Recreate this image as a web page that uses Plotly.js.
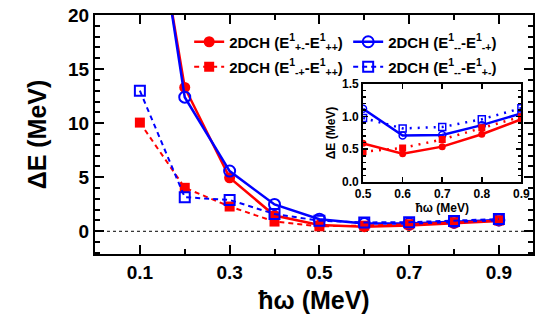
<!DOCTYPE html>
<html>
<head>
<meta charset="utf-8">
<script src="https://cdn.plot.ly/plotly-3.0.1.min.js"></script>
<style>html,body{margin:0;padding:0;background:#fff;}#chart{width:545px;height:326px;}</style>
</head>
<body>
<div id="chart"></div>
<script>
// hbar*omega values (MeV)
const hw = [0.1, 0.2, 0.3, 0.4, 0.5, 0.6, 0.7, 0.8, 0.9];
const hwInset = [0.5, 0.6, 0.7, 0.8, 0.9];

// Delta E (MeV), main panel
const dE_pm_pp = [38.0, 13.3, 4.95, 1.46, 0.59, 0.43, 0.54, 0.73, 0.96];   // E+- - E++
const dE_mm_mp = [39.5, 12.4, 5.57, 2.48, 1.12, 0.71, 0.72, 0.87, 1.05];   // E-- - E-+
const dE_mp_pp = [10.05, 4.02, 2.29, 0.90, 0.46, 0.52, 0.65, 0.83, 1.00];  // E-+ - E++
const dE_mm_pm = [13.0, 3.15, 2.90, 1.60, 0.98, 0.82, 0.84, 0.96, 1.13];   // E-- - E+-

// inset values (same data, 0.5-0.9)
const in_pm_pp = [0.59, 0.43, 0.54, 0.73, 0.96];
const in_mm_mp = [1.12, 0.71, 0.72, 0.87, 1.05];
const in_mp_pp = [0.46, 0.52, 0.65, 0.83, 1.00];
const in_mm_pm = [0.98, 0.82, 0.84, 0.96, 1.13];

const names = [
  '2DCH (E<sup>1</sup><sub>+-</sub>-E<sup>1</sup><sub>++</sub>)',
  '2DCH (E<sup>1</sup><sub>--</sub>-E<sup>1</sup><sub>-+</sub>)',
  '2DCH (E<sup>1</sup><sub>-+</sub>-E<sup>1</sup><sub>++</sub>)',
  '2DCH (E<sup>1</sup><sub>--</sub>-E<sup>1</sup><sub>+-</sub>)'
];

const RED = '#ff0000', BLUE = '#0000ff';
const F = 'Liberation Sans, Arial, sans-serif';

const traces = [
  {x: hw, y: dE_pm_pp, name: names[0], legend: 'legend', mode: 'lines+markers',
   line: {color: RED, width: 2.5}, marker: {symbol: 'circle', size: 11, color: RED}},
  {x: hw, y: dE_mm_mp, name: names[1], legend: 'legend', mode: 'lines+markers',
   line: {color: BLUE, width: 2.5}, marker: {symbol: 'circle-open', size: 11, color: BLUE, line: {width: 2}}},
  {x: hw, y: dE_mp_pp, name: names[2], legend: 'legend2', mode: 'lines+markers',
   line: {color: RED, width: 2, dash: '5px,4px'}, marker: {symbol: 'square', size: 10, color: RED}},
  {x: hw, y: dE_mm_pm, name: names[3], legend: 'legend2', mode: 'lines+markers',
   line: {color: BLUE, width: 2, dash: '5px,4px'}, marker: {symbol: 'square-open', size: 10, color: BLUE, line: {width: 2}}},
  {x: hwInset, y: in_pm_pp, xaxis: 'x2', yaxis: 'y2', showlegend: false, mode: 'lines+markers',
   line: {color: RED, width: 2.5}, marker: {symbol: 'circle', size: 7, color: RED}},
  {x: hwInset, y: in_mm_mp, xaxis: 'x2', yaxis: 'y2', showlegend: false, mode: 'lines+markers',
   line: {color: BLUE, width: 2.5}, marker: {symbol: 'circle-open', size: 7, color: BLUE, line: {width: 1.5}}},
  {x: hwInset, y: in_mp_pp, xaxis: 'x2', yaxis: 'y2', showlegend: false, mode: 'lines+markers',
   line: {color: RED, width: 2.5, dash: '2px,6px'}, marker: {symbol: 'square', size: 7, color: RED}},
  {x: hwInset, y: in_mm_pm, xaxis: 'x2', yaxis: 'y2', showlegend: false, mode: 'lines+markers',
   line: {color: BLUE, width: 2.5, dash: '2px,6px'}, marker: {symbol: 'square-open', size: 7, color: BLUE, line: {width: 1.5}}}
];

const legendBase = {orientation: 'h', x: 0.215, xanchor: 'left', yanchor: 'middle',
  font: {family: F, size: 15, weight: 'bold'}, bgcolor: 'rgba(0,0,0,0)',
  entrywidth: 114, entrywidthmode: 'pixels', traceorder: 'normal', tracegroupgap: 0, itemwidth: 30};

const layout = {
  width: 545, height: 326,
  margin: {l: 95, r: 12, t: 15, b: 72},
  paper_bgcolor: '#fff', plot_bgcolor: '#fff',
  font: {family: F, color: '#000'},
  showlegend: true,
  legend: Object.assign({}, legendBase, {y: 0.887}),
  legend2: Object.assign({}, legendBase, {y: 0.782}),
  xaxis: {range: [0, 0.976], tickvals: [0.1, 0.3, 0.5, 0.7, 0.9], ticktext: ['0.1','0.3','0.5','0.7','0.9'],
          ticks: 'inside', ticklen: 9, tickwidth: 2, tickcolor: '#000',
          minor: {dtick: 0.1, tick0: 0, ticks: 'inside', ticklen: 5, tickwidth: 2, tickcolor: '#000'},
          showline: true, linewidth: 2, linecolor: '#000', mirror: 'allticks',
          showgrid: false, zeroline: false,
          tickfont: {size: 19, weight: 'bold'},
          title: {text: 'ħω (MeV)', font: {size: 25, weight: 'bold'}, standoff: 10}},
  yaxis: {range: [-2.1, 20], dtick: 5, tick0: 0,
          ticks: 'inside', ticklen: 9, tickwidth: 2, tickcolor: '#000',
          minor: {dtick: 1, ticks: 'inside', ticklen: 5, tickwidth: 2, tickcolor: '#000'},
          showline: true, linewidth: 2, linecolor: '#000', mirror: 'allticks',
          showgrid: false, zeroline: false,
          tickfont: {size: 19, weight: 'bold'},
          title: {text: 'ΔE (MeV)', font: {size: 25, weight: 'bold'}, standoff: 14}},
  xaxis2: {domain: [0.612, 0.9735], anchor: 'y2', range: [0.5, 0.9], dtick: 0.1,
           ticks: 'inside', ticklen: 5, tickwidth: 1.5, tickcolor: '#000',
           showline: true, linewidth: 2, linecolor: '#000', mirror: 'allticks',
           showgrid: false, zeroline: false,
           tickfont: {size: 12, weight: 'bold'}, tickformat: '.1f',
           title: {text: 'ħω (MeV)', font: {size: 12, weight: 'bold'}, standoff: 2}},
  yaxis2: {domain: [0.302, 0.711], anchor: 'x2', range: [0, 1.5], dtick: 0.5,
           ticks: 'inside', ticklen: 5, tickwidth: 1.5, tickcolor: '#000',
           minor: {dtick: 0.1, ticks: 'inside', ticklen: 3, tickwidth: 1.5, tickcolor: '#000'},
           showline: true, linewidth: 2, linecolor: '#000', mirror: 'allticks',
           showgrid: false, zeroline: false,
           tickfont: {size: 12, weight: 'bold'}, tickformat: '.1f',
           title: {text: 'ΔE (MeV)', font: {size: 12, weight: 'bold'}, standoff: 4}},
  shapes: [
    {type: 'line', xref: 'paper', yref: 'y', x0: 0, x1: 1, y0: 0, y1: 0,
     line: {color: '#000', width: 1, dash: 'dot'}, layer: 'below'}
  ]
};

Plotly.newPlot('chart', traces, layout, {displayModeBar: false, staticPlot: true});
</script>
</body>
</html>
